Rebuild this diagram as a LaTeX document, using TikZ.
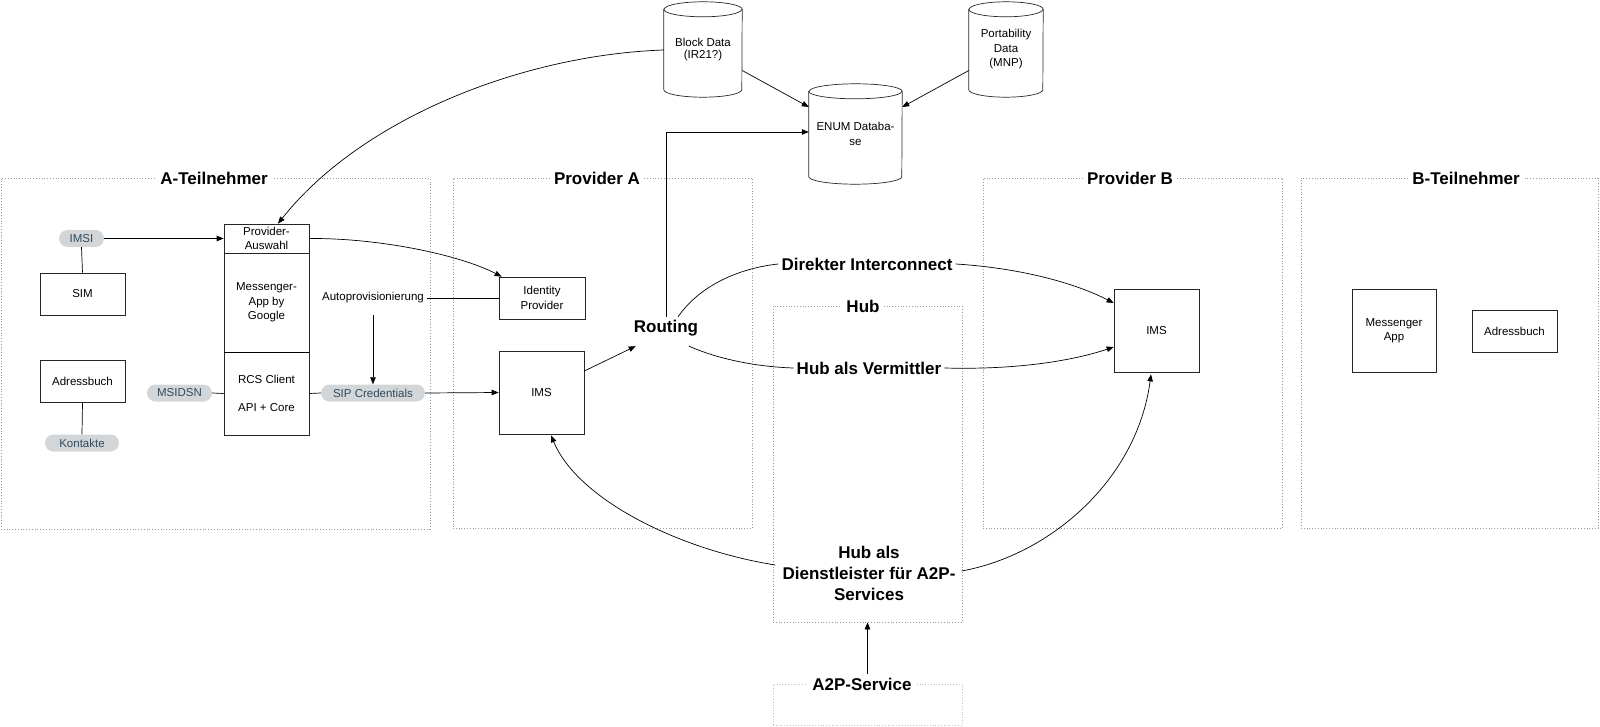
\documentclass[tikz,border=0pt]{standalone}
\usepackage{fontspec}
\setmainfont{Liberation Sans}
\usetikzlibrary{arrows.meta,calc}
\definecolor{pillfill}{HTML}{D3D6D9}
\definecolor{pilltext}{HTML}{2F4A5A}
\definecolor{framecol}{HTML}{9A9A9A}
\newcommand\cylshape[2]{%
 \draw[line width=0.7pt,black!85] ([yshift=-7.5pt]#1.north west) -- ([yshift=7.5pt]#1.south west)
   arc[start angle=180,end angle=360,x radius=#2,y radius=7.5pt]
   -- ([yshift=-7.5pt]#1.north east)
   arc[start angle=0,end angle=180,x radius=#2,y radius=7.5pt] -- cycle;
 \draw[line width=0.7pt,black!85] ([yshift=-7.5pt]#1.north west)
   arc[start angle=180,end angle=360,x radius=#2,y radius=7.5pt];}
\begin{document}
\begin{tikzpicture}[x=1pt,y=-1pt,
  every node/.style={font=\fontsize{11.5}{14.5}\selectfont, align=center},
  box/.style={draw=black!85, line width=0.7pt, inner sep=0pt},
  pill/.style={fill=pillfill, text=pilltext, rounded corners=8.5pt, minimum height=17pt, inner sep=0pt},
  frame/.style={draw=framecol, dotted, line width=0.8pt, inner sep=0pt},
  ftitle/.style={fill=white, font=\bfseries\fontsize{17}{21}\selectfont, inner sep=4pt},
  blabel/.style={font=\bfseries\fontsize{17}{21}\selectfont, inner sep=3pt},
  cyl/.style={inner sep=0pt},
  conn/.style={line width=0.7pt, black},
  arr/.style={conn, -{Triangle[length=7pt,width=5.5pt]}},
]
\useasboundingbox (0,0) rectangle (1600,727);

% frames
\node[frame, minimum width=429pt, minimum height=351pt] (fA) at (215.5,353.5) {};
\node[frame, minimum width=299pt, minimum height=350pt] (fPA) at (602.5,353) {};
\node[frame, minimum width=299pt, minimum height=350pt] (fPB) at (1132.5,353) {};
\node[frame, minimum width=297pt, minimum height=350pt] (fBT) at (1449.5,353) {};
\node[frame, minimum width=189pt, minimum height=316pt] (hub) at (867.5,464) {};
\node[frame, draw=framecol!60, minimum width=189pt, minimum height=41pt] (fA2P) at (867.5,704.5) {};
\node[ftitle] (tA) at (214,178) {A-Teilnehmer};
\node[ftitle] (tPA) at (597,178) {Provider A};
\node[ftitle] (tPB) at (1130,178) {Provider B};
\node[ftitle] (tBT) at (1466,178) {B-Teilnehmer};
\node[ftitle] (tHub) at (863,306) {Hub};
\node[ftitle] (a2p) at (862,684) {A2P-Service};

% databases
\node[cyl, minimum width=78pt, minimum height=95pt] (blk) at (703,49.5) {Block Data\\[-2pt](IR21?)};
\cylshape{blk}{39pt}
\node[cyl, minimum width=93pt, minimum height=100pt] (enum) at (855.5,134) {ENUM Databa-\\se};
\cylshape{enum}{46.5pt}
\node[cyl, minimum width=74pt, minimum height=95pt] (port) at (1006,49.5) {Portability\\Data\\(MNP)};
\cylshape{port}{37pt}

% A-Teilnehmer
\node[pill, minimum width=45pt] (imsi) at (81.5,238.5) {IMSI};
\node[box, minimum width=85pt, minimum height=42pt] (sim) at (82.5,294) {SIM};
\node[box, minimum width=85pt, minimum height=42pt] (adrA) at (82.5,381) {Adressbuch};
\node[pill, minimum width=74pt] (kont) at (82,443) {Kontakte};
\node[pill, minimum width=65pt] (msidsn) at (179.5,393) {MSIDSN};
\node[box, minimum width=85pt, minimum height=29pt] (pa) at (266.5,238.5) {Provider-\\Auswahl};
\node[box, minimum width=85pt, minimum height=99pt] (mapp) at (266.5,302.5) {Messenger-\\App by\\Google};
\node[box, minimum width=85pt, minimum height=83pt] (rcs) at (266.5,393.5) {RCS Client\\[14pt]API + Core};
\draw[line width=1.3pt] (mapp.south west) -- (mapp.south east);
\node (auto) at (373,298) {Autoprovisionierung};
\node[pill, minimum width=104pt] (sip) at (373,393) {SIP Credentials};

% Provider A
\node[box, minimum width=86pt, minimum height=42pt] (idp) at (542,298) {Identity\\Provider};
\node[box, minimum width=85pt, minimum height=83pt] (imsA) at (541.5,392.5) {IMS};
\node[blabel] (rt) at (666,328) {Routing};

% Provider B / B-Teilnehmer
\node[box, minimum width=85pt, minimum height=83pt] (imsB) at (1156.5,330.5) {IMS};
\node[box, minimum width=84pt, minimum height=83pt] (mappB) at (1394,330.5) {Messenger\\App};
\node[box, minimum width=85pt, minimum height=42pt] (adrB) at (1514.5,331) {Adressbuch};

% Hub labels
\node[blabel] (di) at (867,264) {Direkter Interconnect};
\node[blabel] (hv) at (869,368) {Hub als Vermittler};
\node[blabel, font=\bfseries\fontsize{17}{21}\selectfont] (dl) at (869,573) {Hub als\\Dienstleister für A2P-\\Services};

% connectors A-Teilnehmer
\draw[arr] (imsi.east) -- (pa.west);
\draw[conn] (imsi.south) -- (sim.north);
\draw[conn] (adrA.south) -- (kont.north);
\draw[conn] (msidsn.east) -- (rcs.west);
\draw[conn] (rcs.east) -- (sip.west);
\draw[arr] (sip.east) -- (imsA.west);
\draw[conn] (auto.east) -- (idp.west);
\draw[arr] ($(auto.south)+(0,8)$) -- (sip.north);
\draw[arr] (pa.east) .. controls (380,238) and (460,255) .. ($(idp.north west)+(3,0)$);
\draw[arr] ($(blk.west)+(0,0.5)$) .. controls (520,55) and (360,120) .. ($(pa.north)+(11.5,0)$);

% databases connectors
\draw[arr] ($(blk.east)+(0,21)$) -- ($(enum.west)+(0,-27)$);
\draw[arr] ($(port.west)+(0,21)$) -- ($(enum.east)+(0,-27)$);
\draw[arr] (rt.north) |- ($(enum.west)+(0,-2)$);

% routing
\draw[arr] ($(imsA.east)+(0,-21.5)$) -- ($(rt.south west)+(5,7)$);
\draw[conn] ($(rt.north)+(12,0)$) .. controls (700,285) and (740,268) .. (di.west);
\draw[arr] (di.east) .. controls (1020,268) and (1075,283) .. ($(imsB.west)+(0,-27.5)$);
\draw[conn] ($(rt.south)+(23,7)$) .. controls (720,360) and (760,367) .. (hv.west);
\draw[arr] (hv.east) .. controls (1020,370) and (1075,360) .. ($(imsB.west)+(0,16.5)$);

% A2P
\draw[arr] ($(dl.west)+(-4,-8)$) .. controls (680,550) and (578,500) .. ($(imsA.south)+(9.5,1)$);
\draw[arr] ($(dl.east)+(3,-2)$) .. controls (1050,555) and (1137,480) .. ($(imsB.south)+(-5.5,2)$);
\draw[arr] (hub.south |- a2p.north) -- (hub.south);
\end{tikzpicture}
\end{document}
